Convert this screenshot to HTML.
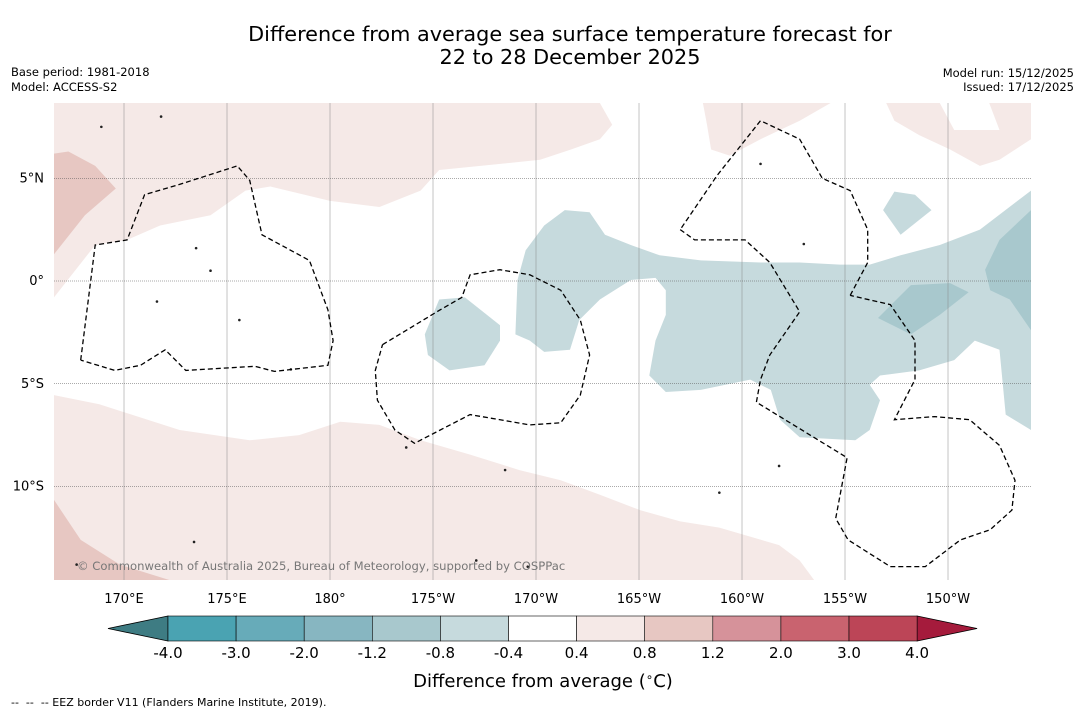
<!DOCTYPE html>
<html><head><meta charset="utf-8">
<style>
body{margin:0;background:#fff;font-family:"DejaVu Sans","Liberation Sans",sans-serif;}
#wrap{position:relative;width:1085px;height:713px;overflow:hidden;background:#fff}
</style></head>
<body>
<div id="wrap">
<svg id="svg" width="1085" height="713" xmlns="http://www.w3.org/2000/svg" font-family="DejaVu Sans, Liberation Sans, sans-serif">
<text x="570" y="41" font-size="20.8" text-anchor="middle" fill="#000">Difference from average sea surface temperature forecast for</text>
<text x="570" y="64" font-size="20.8" text-anchor="middle" fill="#000">22 to 28 December 2025</text>
<text x="11" y="76" font-size="11.5">Base period: 1981-2018</text>
<text x="11" y="91" font-size="11.5">Model: ACCESS-S2</text>
<text x="1074" y="77" font-size="11.5" text-anchor="end">Model run: 15/12/2025</text>
<text x="1074" y="91" font-size="11.5" text-anchor="end">Issued: 17/12/2025</text>
<g id="map"></g>
<g id="axes"></g>
<g id="cbar"></g>
<text x="543" y="687" font-size="18" text-anchor="middle">Difference from average (<tspan font-size="12" dy="-6">∘</tspan><tspan dy="6">C)</tspan></text>
<text x="11" y="706" font-size="11">-- &#160;-- &#160;-- EEZ border V11 (Flanders Marine Institute, 2019).</text>
</svg>
</div>
<script>
// ---- data ----
const lonTicks=[170,175,180,185,190,195,200,205,210];
const lonLabels=["170°E","175°E","180°","175°W","170°W","165°W","160°W","155°W","150°W"];
const latTicks=[5,0,-5,-10];
const latLabels=["5°N","0°","5°S","10°S"];
const cbarLevels=["-4.0","-3.0","-2.0","-1.2","-0.8","-0.4","0.4","0.8","1.2","2.0","3.0","4.0"];
const cbarColors=["#4aa3b2","#67abb9","#87b6c1","#a8c8cd","#c6dadd","#ffffff","#f5e9e7","#e7c7c2","#d6929a","#c9636f","#bc4557"];
const pinkNorth=[[166.6,-0.8],[168.6,1.75],[170.15,2.0],[171.75,2.7],[174.2,3.2],[175.9,4.4],[177.1,4.6],[180,3.9],[182.4,3.6],[184.4,4.4],[185.3,5.4],[187.3,5.6],[190.2,5.9],[191.7,6.4],[193.1,6.9],[193.7,7.6],[193.1,8.66],[166.6,8.66]];
const pinkNorthDark=[[166.6,6.2],[167.3,6.3],[168.6,5.6],[169.6,4.5],[168.1,3.2],[166.6,1.3]];
const pinkTopMid=[[198.1,8.66],[198.3,7.6],[198.5,6.4],[199.4,6.1],[200.9,6.9],[202.8,7.8],[204.3,8.66]];
const pinkTopRight=[[207.0,8.66],[207.4,7.8],[208.6,7.1],[210.1,6.4],[211.55,5.6],[212.5,5.9],[214.03,6.9],[214.03,8.66],[212.0,8.66],[212.5,7.35],[210.3,7.35],[209.6,8.66]];
const pinkSouth=[[166.6,-5.55],[168.8,-6.0],[172.7,-7.25],[176.1,-7.75],[178.5,-7.5],[180.5,-6.85],[182.4,-7.0],[184.4,-7.75],[186.8,-8.45],[189.2,-9.2],[191.2,-9.7],[193.1,-10.4],[195.05,-11.15],[197.0,-11.7],[198.9,-12.0],[201.8,-12.85],[202.8,-13.6],[203.5,-14.55],[166.6,-14.55]];
const pinkSouthDark=[[166.6,-10.65],[167.9,-12.6],[169.8,-13.8],[172.2,-14.55],[166.6,-14.55]];
const blueMain=[[189.0,-2.6],[189.1,0.05],[189.5,1.5],[190.4,2.7],[191.4,3.45],[192.6,3.35],[193.35,2.25],[194.6,1.75],[196.0,1.25],[198.0,1.0],[200.9,0.9],[202.8,0.9],[204.75,0.8],[206.2,0.8],[207.7,1.25],[209.6,1.75],[211.55,2.5],[214.03,4.4],[214.03,-7.25],[212.8,-6.5],[212.5,-3.35],[211.3,-2.9],[210.3,-3.85],[208.6,-4.35],[206.7,-4.6],[206.2,-5.05],[206.7,-5.8],[206.2,-7.25],[205.5,-7.75],[202.8,-7.6],[201.85,-6.75],[201.4,-5.3],[200.4,-4.8],[198.0,-5.3],[196.3,-5.4],[195.5,-4.6],[195.8,-2.9],[196.3,-1.65],[196.3,-0.45],[195.8,0.15],[194.6,0.05],[193.1,-0.9],[192.1,-1.9],[191.65,-3.35],[190.4,-3.45],[189.7,-2.9]];
const blueSmall=[[184.6,-2.6],[185.3,-0.9],[186.55,-0.8],[188.25,-2.15],[188.25,-2.9],[187.5,-4.1],[185.8,-4.35],[184.75,-3.6]];
const blueNE=[[206.85,3.45],[207.4,4.35],[208.4,4.2],[209.2,3.45],[207.7,2.25]];
const blueDark1=[[211.8,0.55],[212.5,2.0],[214.03,3.45],[214.03,-2.4],[213.0,-0.9],[212.05,-0.45]];
const blueDark2=[[206.6,-1.8],[208.2,-0.2],[210.1,-0.1],[211.0,-0.55],[209.6,-1.65],[208.2,-2.6]];
const eezWest=[[167.9,-3.85],[168.6,1.75],[170.15,2.0],[171.0,4.2],[172.7,4.7],[175.5,5.6],[176.1,4.9],[176.7,2.25],[179.0,1.0],[179.9,-1.4],[180.15,-2.9],[179.9,-4.1],[177.3,-4.4],[176.35,-4.15],[173.0,-4.35],[172.0,-3.35],[170.8,-4.1],[169.55,-4.35],[167.9,-3.85]];
const eezMid=[[182.55,-3.1],[185.35,-1.4],[186.4,-0.8],[186.8,0.3],[188.25,0.55],[189.7,0.3],[191.2,-0.45],[192.15,-1.9],[192.6,-3.6],[192.15,-5.55],[191.2,-6.9],[189.7,-7.0],[186.8,-6.5],[184.1,-7.9],[183.15,-7.25],[182.3,-5.8],[182.2,-4.35],[182.55,-3.1]];
const eezEastA=[[197.0,2.5],[197.7,2.0],[200.15,2.0],[201.35,0.9],[202.8,-1.5],[201.35,-3.6],[200.9,-4.8],[200.7,-5.9],[205.1,-8.6],[204.55,-11.55],[205.15,-12.6],[207.2,-13.9],[208.9,-13.9],[210.6,-12.6],[212.05,-12.1],[213.1,-11.15],[213.25,-9.7],[212.5,-8.0],[211.05,-6.75],[209.35,-6.6],[207.4,-6.75],[208.4,-4.8],[208.4,-2.9],[207.2,-1.15],[205.25,-0.7]];
const eezEastB=[[205.25,-0.7],[206.1,0.9],[206.1,2.5],[205.25,4.4],[203.9,5.0],[202.8,6.9],[200.9,7.8],[198.8,5.15],[197.0,2.5]];
const islands=[[171.6,-1.0],[173.5,1.6],[174.2,0.5],[175.6,-1.9],[178.1,-4.3],[183.7,-8.1],[188.5,-9.2],[189.6,-13.9],[187.1,-13.6],[173.4,-12.7],[200.9,5.7],[203.0,1.8],[201.8,-9.0],[198.9,-10.3],[167.7,-13.8],[171.8,8.0],[168.9,7.5]];

// ---- axes ----
const X0=54,X1=1031,Y0=103,Y1=580;
const xs=lon=>124+(lon-170)*20.6;
const ys=lat=>281-lat*20.55;
const NS="http://www.w3.org/2000/svg";
function mk(tag,attrs,parent){const e=document.createElementNS(NS,tag);for(const k in attrs)e.setAttribute(k,attrs[k]);parent.appendChild(e);return e;}
const map=document.getElementById('map');
const clip=mk('clipPath',{id:'clip'},map);
mk('rect',{x:X0,y:Y0,width:X1-X0,height:Y1-Y0},clip);
const g=mk('g',{'clip-path':'url(#clip)'},map);
function pts(a){return a.map(p=>xs(p[0]).toFixed(1)+','+ys(p[1]).toFixed(1)).join(' ');}
function poly(a,fill,name){const e=mk('polygon',{points:pts(a),fill:fill},g);

}
poly(pinkNorth,'#f5e9e7','anomaly-region-north-warm');
poly(pinkNorthDark,'#e7c7c2','anomaly-region-northwest-warm');
poly(pinkTopMid,'#f5e9e7','anomaly-region-top-mid-warm');
poly(pinkTopRight,'#f5e9e7','anomaly-region-top-right-warm');
poly(pinkSouth,'#f5e9e7','anomaly-region-south-warm');
poly(pinkSouthDark,'#e7c7c2','anomaly-region-southwest-warm');
poly(blueMain,'#c6dadd','anomaly-region-equatorial-cool');
poly(blueSmall,'#c6dadd','anomaly-region-small-cool');
poly(blueNE,'#c6dadd','anomaly-region-northeast-cool');
poly(blueDark1,'#a8c8cd','anomaly-region-east-cool-strong');
poly(blueDark2,'#a8c8cd','anomaly-region-central-cool-strong');
islands.forEach(p=>{const c=mk('circle',{cx:xs(p[0]),cy:ys(p[1]),r:1.3,fill:'#222'},g);

});
lonTicks.forEach(l=>{const e=mk('line',{x1:xs(l),x2:xs(l),y1:Y0,y2:Y1,stroke:'#888','stroke-width':0.5},g);

});
latTicks.forEach(l=>{const e=mk('line',{x1:X0,x2:X1,y1:ys(l),y2:ys(l),stroke:'#555','stroke-width':0.5,'stroke-dasharray':'1,1'},g);

});
[eezWest,eezMid,eezEastA,eezEastB].forEach(a=>{const e=mk('polyline',{points:pts(a),fill:'none',stroke:'#000','stroke-width':1.3,'stroke-dasharray':'5,3'},g);

});
const cp=mk('text',{x:77,y:570,'font-size':11.6,fill:'#777'},g);cp.textContent='© Commonwealth of Australia 2025, Bureau of Meteorology, supported by COSPPac';


const axes=document.getElementById('axes');
lonTicks.forEach((l,i)=>{const t=mk('text',{x:xs(l),y:603,'font-size':13,'text-anchor':'middle'},axes);t.textContent=lonLabels[i];

});
latTicks.forEach((l,i)=>{const t=mk('text',{x:44,y:ys(l)+4,'font-size':13,'text-anchor':'end'},axes);t.textContent=latLabels[i];

});
const cb=document.getElementById('cbar');
const cx0=168,cw=68.1,cy0=616,ch=25;
const lt=mk('polygon',{points:`108,${cy0+ch/2} ${cx0},${cy0} ${cx0},${cy0+ch}`,fill:'#3e7c83',stroke:'#000','stroke-width':0.8},cb);


const xe=cx0+cw*cbarColors.length;
const rt=mk('polygon',{points:`${xe},${cy0} ${xe+60},${cy0+ch/2} ${xe},${cy0+ch}`,fill:'#a51b3c',stroke:'#000','stroke-width':0.8},cb);


cbarColors.forEach((c,i)=>{const r=mk('rect',{x:cx0+i*cw,y:cy0,width:cw,height:ch,fill:c,stroke:'#000','stroke-width':0.6},cb);

});
cbarLevels.forEach((v,i)=>{const t=mk('text',{x:cx0+i*cw,y:658,'font-size':15,'text-anchor':'middle'},cb);t.textContent=v;

});
</script>
</body></html>
